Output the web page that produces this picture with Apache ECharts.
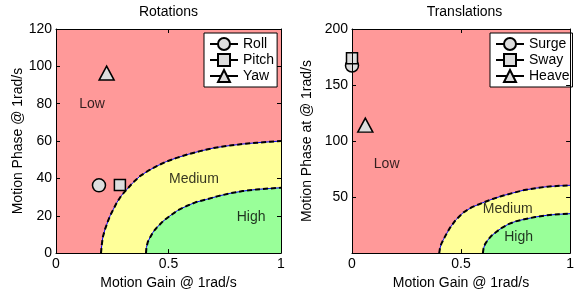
<!DOCTYPE html>
<html><head><meta charset="utf-8">
<script src="https://cdn.jsdelivr.net/npm/echarts@6/dist/echarts.min.js"></script>
<style>html,body{margin:0;padding:0;background:#fff}#c{width:577px;height:295px}</style>
</head><body><div id="c"></div>
<script>
// ---- Data ----
const rotMediumGain  = [0.2,0.203,0.208,0.218,0.23,0.24,0.255,0.27,0.29,0.314,0.34,0.373,0.41,0.448,0.49,0.536,0.59,0.64,0.7,0.773,0.83,0.892,0.95,1.0];
const rotMediumPhase = [0,4,8.5,12.8,16.8,19.9,23.5,27,30.7,34,37.5,41.2,44.1,46.6,49,51,53,54.6,56.3,57.6,58.4,59.1,59.6,60];
const rotHighGain    = [0.4,0.402,0.408,0.418,0.43,0.448,0.475,0.507,0.54,0.58,0.62,0.67,0.72,0.773,0.83,0.892,0.95,1.0];
const rotHighPhase   = [0,3,6,8.4,11,13.7,17,20,22.8,25.2,27.2,28.8,30.5,32,33.2,34.1,34.6,35];
const trMediumGain   = [0.4,0.403,0.41,0.42,0.435,0.45,0.475,0.51,0.55,0.6,0.645,0.687,0.74,0.79,0.845,0.895,0.95,1.0];
const trMediumPhase  = [0,4,8.5,12.4,17.8,22.8,29.5,36.2,41,45,48.3,51,53.8,56.3,58,59.3,60,60.5];
const trHighGain     = [0.6,0.603,0.61,0.62,0.637,0.658,0.685,0.717,0.75,0.79,0.84,0.895,0.95,1.0];
const trHighPhase    = [0,4,8,11,15,18.4,22.3,25.8,28.3,30.2,32.2,33.8,34.7,35.2];

const rotNames  = ['Roll','Pitch','Yaw'];
const rotGain   = [0.191,0.284,0.225];
const rotPhase  = [36.3,36.4,96.4];
const trNames   = ['Surge','Sway','Heave'];
const trGain    = [0.0,0.0,0.061];
const trPhase   = [167.4,174.0,114.2];
const markerSymbols = ['circle','rect','triangle'];

const regionNames = ['Low','Medium','High'];
const rotRegionGain  = [0.16,0.613,0.867];
const rotRegionPhase = [79.5,39.5,19.2];
const trRegionGain   = [0.159,0.714,0.764];
const trRegionPhase  = [79,39,14.2];

const titles = ['Rotations','Translations'];
const xName = 'Motion Gain @ 1rad/s';
const yNames = ['Motion Phase @ 1rad/s','Motion Phase at @ 1rad/s'];

// ---- Styles ----
const FONT = '"Liberation Sans", Arial, Helvetica, sans-serif';
const RED = '#ff9999', YEL = '#ffff99', GRN = '#99ff99';
const zip = (a,b) => a.map((v,i)=>[v,b[i]]);

function boundary(gain, phase, fill, xi, yi){
  return [
    {type:'line', xAxisIndex:xi, yAxisIndex:yi, data:zip(gain,phase), symbol:'none', silent:true,
     lineStyle:{color:'#0000ff', width:1}, areaStyle:{color:fill, opacity:1}, z:2},
    {type:'line', xAxisIndex:xi, yAxisIndex:yi, data:zip(gain,phase), symbol:'none', silent:true,
     lineStyle:{color:'#000', width:2, type:[5,3]}, z:3}
  ];
}
function markers(names, gain, phase, xi, yi){
  const sizes = {circle:13, rect:11, triangle:[15,14]};
  return names.map((n,i)=>({
    type:'line', name:n, xAxisIndex:xi, yAxisIndex:yi, data:[[gain[i],phase[i]]],
    symbol:markerSymbols[i], symbolSize:sizes[markerSymbols[i]], clip:false,
    itemStyle:{color:'#dddddd', borderColor:'#000', borderWidth:1.5},
    lineStyle:{color:'#000', width:1.5}, z:5
  }));
}
function regionLabels(gain, phase, xi, yi){
  return {type:'scatter', xAxisIndex:xi, yAxisIndex:yi, symbolSize:0, silent:true, z:4,
    data: regionNames.map((n,i)=>({name:n, value:[gain[i],phase[i]]})),
    label:{show:true, position:'inside', formatter:'{b}', color:'#000', fontSize:14, fontFamily:FONT}};
}

const lbl = {color:'#000', fontSize:14, fontFamily:FONT};
function xAx(grid, pos, main){
  return {type:'value', gridIndex:grid, position:pos, min:0, max:1, interval:0.5, z:10,
    name: main ? xName : '', nameLocation:'middle', nameGap:18, nameTextStyle:lbl,
    axisLine:{show:true, onZero:false, lineStyle:{color:'#000', width:1}},
    axisTick:{show:true, inside:true, length:4, lineStyle:{color:'#000'}},
    axisLabel:Object.assign({show:main, margin:4}, lbl),
    splitLine:{show:false}};
}
function yAx(grid, pos, main, max, interval, showMin, name){
  return {type:'value', gridIndex:grid, position:pos, min:0, max:max, interval:interval, z:10,
    name: main ? name : '', nameLocation:'middle', nameGap: grid===0 ? 31 : 38, nameTextStyle:lbl,
    axisLine:{show:true, onZero:false, lineStyle:{color:'#000', width:1}},
    axisTick:{show:true, inside:true, length:4, lineStyle:{color:'#000'}},
    axisLabel:Object.assign({show:main, margin:4, showMinLabel:showMin}, lbl),
    splitLine:{show:false}};
}

const legendBase = {orient:'vertical', backgroundColor:'#fff', borderColor:'#000', borderWidth:1,
  padding:[4,3,4,5], itemWidth:28, itemHeight:15, itemGap:2, textStyle:{color:'#000', fontSize:14, fontFamily:FONT},
  selectedMode:false};

const option = {
  animation:false,
  textStyle:{fontFamily:FONT},
  title:[
    {text:titles[0], left:168.5, top:5, textAlign:'center', padding:0, textStyle:{color:'#000', fontSize:14, fontWeight:'normal', fontFamily:FONT}},
    {text:titles[1], left:464.5, top:5, textAlign:'center', padding:0, textStyle:{color:'#000', fontSize:14, fontWeight:'normal', fontFamily:FONT}}
  ],
  legend:[
    Object.assign({}, legendBase, {data:rotNames, left:204, top:33}),
    Object.assign({}, legendBase, {data:trNames, left:490, top:33})
  ],
  grid:[
    {left:56, top:29, width:225, height:225, show:true, backgroundColor:RED, borderWidth:0},
    {left:352, top:29, width:225, height:225, show:true, backgroundColor:RED, borderWidth:0}
  ],
  xAxis:[xAx(0,'bottom',true), xAx(0,'top',false), xAx(1,'bottom',true), xAx(1,'top',false)],
  yAxis:[yAx(0,'left',true,120,20,true,yNames[0]), yAx(0,'right',false,120,20,true,''),
         yAx(1,'left',true,200,50,false,yNames[1]), yAx(1,'right',false,200,50,false,'')],
  series:[].concat(
    boundary(rotMediumGain, rotMediumPhase, YEL, 0, 0),
    boundary(rotHighGain, rotHighPhase, GRN, 0, 0),
    boundary(trMediumGain, trMediumPhase, YEL, 2, 2),
    boundary(trHighGain, trHighPhase, GRN, 2, 2),
    [regionLabels(rotRegionGain, rotRegionPhase, 0, 0), regionLabels(trRegionGain, trRegionPhase, 2, 2)],
    markers(rotNames, rotGain, rotPhase, 0, 0),
    markers(trNames, trGain, trPhase, 2, 2)
  )
};
echarts.init(document.getElementById('c')).setOption(option);
</script></body></html>
